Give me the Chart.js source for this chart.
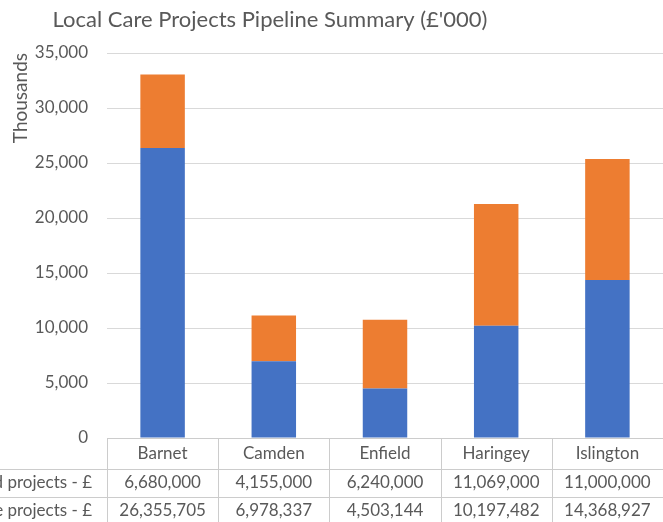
<!DOCTYPE html>
<html>
<head>
<meta charset="utf-8">
<script src="https://cdn.jsdelivr.net/npm/chart.js@4"></script>
<style>
  html, body { margin: 0; padding: 0; background: #fff; overflow: hidden; }
  #wrap { width: 663px; height: 522px; }
</style>
</head>
<body>
<div id="wrap"><canvas id="chart" width="663" height="522"></canvas></div>
<script>
// Data (values in £)
const boroughs = ["Barnet", "Camden", "Enfield", "Haringey", "Islington"];
const rowLabels = ["Planned projects - £", "Local care projects - £"];
const plannedProjects = [6680000, 4155000, 6240000, 11069000, 11000000];
const localCareProjects = [26355705, 6978337, 4503144, 10197482, 14368927];
const yTicks = [0, 5000, 10000, 15000, 20000, 25000, 30000, 35000];

const BLUE = "#4472C4";
const ORANGE = "#ED7D31";
const TEXT = "#595959";
const LINE = "#D9D9D9";
const FONT = "Lato, 'Open Sans', sans-serif";

const fmt = v => v.toLocaleString("en-GB");

// draws the title and the Excel-style data table under the bars
const tablePlugin = {
  id: "dataTable",
  afterDraw(chart) {
    const { ctx, chartArea, scales } = chart;
    const x = scales.x;
    const n = boroughs.length;
    const colW = (chartArea.right - chartArea.left) / n;
    const top = chartArea.bottom;
    const H = ctx.canvas.height;
    const W = ctx.canvas.width;
    const rowLines = [top + 31, top + 59];
    const rowMid = [top + 16, top + 45, top + 73];
    ctx.save();

    // title
    ctx.fillStyle = TEXT;
    ctx.font = "22px " + FONT;
    ctx.textAlign = "center";
    ctx.textBaseline = "middle";
    ctx.fillText("Local Care Projects Pipeline Summary (£'000)", 270, 20);

    // grid of the table
    ctx.fillStyle = "#CCCCCC";
    ctx.fillRect(chartArea.left, top, W - chartArea.left, 1);
    rowLines.forEach(y => ctx.fillRect(0, y, W, 1));
    for (let i = 0; i <= n; i++) {
      const cx = Math.round(chartArea.left + i * colW);
      ctx.fillRect(cx, top, 1, H - top);
    }

    // texts
    ctx.font = "17px " + FONT;
    ctx.fillStyle = TEXT;
    ctx.textAlign = "center";
    const series = [plannedProjects, localCareProjects];
    boroughs.forEach((b, i) => {
      const cx = x.getPixelForValue(i);
      ctx.fillText(b, cx, rowMid[0]);
      series.forEach((s, r) => {
        ctx.fillText(fmt(s[i]), cx, rowMid[r + 1]);
      });
    });
    ctx.textAlign = "right";
    rowLabels.forEach((lab, r) => {
      ctx.fillText(lab, 92, rowMid[r + 1]);
    });
    ctx.restore();
  }
};

new Chart(document.getElementById("chart"), {
  type: "bar",
  data: {
    labels: boroughs,
    datasets: [
      {
        label: rowLabels[1],
        data: localCareProjects.map(v => v / 1000),
        backgroundColor: BLUE,
        categoryPercentage: 1,
        barPercentage: 0.4
      },
      {
        label: rowLabels[0],
        data: plannedProjects.map(v => v / 1000),
        backgroundColor: ORANGE,
        categoryPercentage: 1,
        barPercentage: 0.4
      }
    ]
  },
  options: {
    responsive: false,
    animation: false,
    layout: { padding: { top: 53, bottom: 84, left: 0, right: 0 } },
    plugins: {
      legend: { display: false },
      tooltip: { enabled: false }
    },
    scales: {
      x: { stacked: true, display: false },
      y: {
        stacked: true,
        min: 0,
        max: 35000,
        afterBuildTicks: s => { s.ticks = yTicks.map(v => ({ value: v })); },
        afterFit: s => { s.width = 107; },
        grid: { color: LINE, drawTicks: false },
        border: { display: false },
        ticks: {
          padding: 19,
          color: TEXT,
          font: { family: FONT, size: 17 },
          callback: v => fmt(v)
        },
        title: {
          display: true,
          text: "Thousands",
          align: "end",
          color: TEXT,
          font: { family: FONT, size: 19 },
          padding: { top: 9, bottom: 0 }
        }
      }
    }
  },
  plugins: [tablePlugin]
});
</script>
</body>
</html>
